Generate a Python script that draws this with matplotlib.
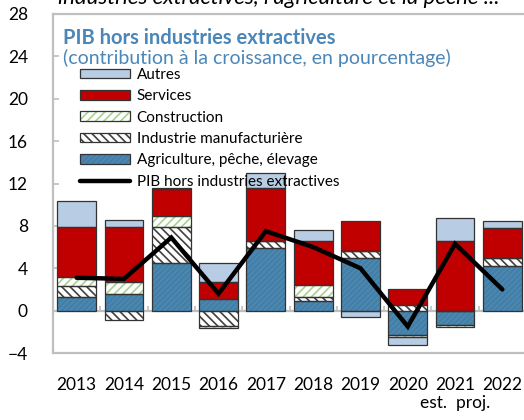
import numpy as np
import matplotlib
matplotlib.use("Agg")
import matplotlib.pyplot as plt
from matplotlib.legend_handler import HandlerTuple

plt.rcParams['font.family'] = ['Lato', 'DejaVu Sans']
plt.rcParams['hatch.linewidth'] = 1.2

# -----------------------------
# Data (contribution to growth, %)
# -----------------------------
years = ["2013", "2014", "2015", "2016", "2017", "2018", "2019", "2020", "2021\nest.  proj.", "2022"]
agriculture = [1.3, 1.6, 4.45, 1.07, 5.87, 0.92, 5.0, -2.3, -1.4, 4.23]
industrie = [1.0, -0.92, 3.45, -1.48, 0.69, 0.38, 0.6, 0.57, 0.0, 0.7]
construction = [0.85, 1.1, 1.0, -0.15, 0.0, 1.16, 0.0, -0.15, -0.15, 0.0]
services = [4.7, 5.2, 2.55, 1.65, 5.04, 4.1, 2.9, 1.43, 6.56, 2.83]
autres = [2.5, 0.7, 0.15, 1.75, 1.4, 1.04, -0.6, -0.75, 2.2, 0.7]
pib = [3.1, 3.0, 6.9, 1.6, 7.5, 6.0, 4.0, -1.5, 6.3, 2.0]

# (label, values, face, hatch colour, hatch)
series = [
    ("Agriculture, pêche, élevage", agriculture, "#4A88B1", "#437DA4", "//////"),
    ("Industrie manufacturière", industrie, "white", "#404040", "\\\\\\\\"),
    ("Construction", construction, "white", "#A9D18E", "////"),
    ("Services", services, "#C00000", "#C00000", None),
    ("Autres", autres, "#B8CCE4", "#B8CCE4", None),
]

fig = plt.figure(figsize=(5.24, 4.2), dpi=100)
ax = fig.add_axes([53 / 524, 67 / 420, 473 / 524, 339 / 420])

x = np.arange(len(years))
width = 0.82
pos_bottom = np.zeros(len(years))
neg_bottom = np.zeros(len(years))
handles = {}
for label, vals, face, hcol, hatch in series:
    vals = np.array(vals)
    bottom = np.where(vals >= 0, pos_bottom, neg_bottom)
    fill = ax.bar(x, vals, width, bottom=bottom, color=face, edgecolor=hcol,
                  hatch=hatch, linewidth=0, zorder=2)
    edge = ax.bar(x, vals, width, bottom=bottom, fill=False, edgecolor="#333333",
                  linewidth=0.9, zorder=3)
    handles[label] = (fill, edge)
    pos_bottom += np.where(vals >= 0, vals, 0)
    neg_bottom += np.where(vals < 0, vals, 0)

line, = ax.plot(x, pib, color="black", linewidth=3.2, solid_capstyle="round",
                solid_joinstyle="miter", zorder=4)

# zero line and category separator ticks
ax.axhline(0, color="#BFBFBF", linewidth=1.6, zorder=1)
ax.vlines(x[:-1] + 0.5, 0, 0.45, color="#BFBFBF", linewidth=1.2, zorder=1)

ax.set_xlim(-0.5, len(years) - 0.5)
ax.set_ylim(-4, 28)
ax.set_yticks(np.arange(-4, 29, 4))
ax.set_xticks(x)
ax.set_xticklabels(years, fontsize=12.5, linespacing=1.15)
ax.tick_params(axis="x", length=0, pad=17)
ax.tick_params(axis="y", direction="in", length=4, width=1.2, color="#BFBFBF",
               labelsize=12.5, pad=18)
for s in ax.spines.values():
    s.set_color("#BFBFBF")
    s.set_linewidth(1.6)

# titles
blue = "#4A86B8"
fig.text(63 / 524, 1 - 38 / 420, "PIB hors industries extractives", fontsize=14.5,
         fontweight="bold", color=blue, va="center")
fig.text(63 / 524, 1 - 58 / 420, "(contribution à la croissance, en pourcentage)",
         fontsize=14, color=blue, va="center")
fig.text(58 / 524, 1 - 4 / 420, "industries extractives, l'agriculture et la pêche ...",
         fontsize=16, style="italic", va="baseline")

order = ["Autres", "Services", "Construction", "Industrie manufacturière",
         "Agriculture, pêche, élevage"]
leg = ax.legend([handles[k] for k in order] + [line], order + ["PIB hors industries extractives"],
                handler_map={tuple: HandlerTuple(ndivide=1, pad=0)},
                loc="upper left", bbox_to_anchor=(27 / 473, 1 - 54 / 339),
                frameon=False, fontsize=11, handlelength=3.3, handleheight=0.6,
                labelspacing=0.48, handletextpad=0.4, borderpad=0, borderaxespad=0)

fig.savefig("out.png", dpi=100)
